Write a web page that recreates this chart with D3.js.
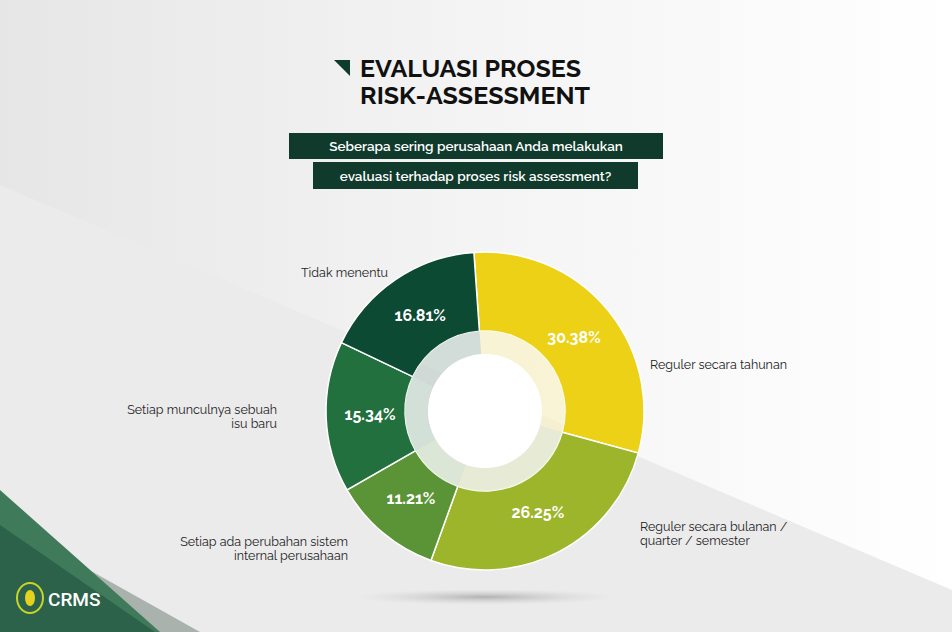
<!DOCTYPE html>
<html><head><meta charset="utf-8">
<script src="https://cdn.jsdelivr.net/npm/d3@7"></script>
<style>body{margin:0}svg{display:block}</style>
</head><body>
<svg width="952" height="632"></svg>
<script>
const categories = ['Reguler secara tahunan', 'Reguler secara bulanan / quarter / semester', 'Setiap ada perubahan sistem internal perusahaan', 'Setiap munculnya sebuah isu baru', 'Tidak menentu']
const values = [30.38, 26.25, 11.21, 15.34, 16.81]
const colors = ['#ecd117', '#9db52a', '#5b9436', '#23703f', '#0d4a33']
const labelLines = [['Reguler secara tahunan'], ['Reguler secara bulanan /', 'quarter / semester'], ['Setiap ada perubahan sistem', 'internal perusahaan'], ['Setiap munculnya sebuah', 'isu baru'], ['Tidak menentu']]
const labelPos = [[650, 369, 'start'], [640, 531, 'start'], [348, 546, 'end'], [277, 414, 'end'], [388, 277, 'end']]

const svg = d3.select('svg')
const font = 'Raleway, Lato, sans-serif'
const defs = svg.append('defs')
const g1 = defs.append('linearGradient').attr('id', 'bg').attr('x1', 0).attr('y1', 0).attr('x2', 1).attr('y2', 0)
g1.append('stop').attr('offset', 0).attr('stop-color', '#e6e6e6')
g1.append('stop').attr('offset', 0.5).attr('stop-color', '#f4f4f4')
g1.append('stop').attr('offset', 1).attr('stop-color', '#ffffff')
const sh = defs.append('radialGradient').attr('id', 'sh')
sh.append('stop').attr('offset', 0).attr('stop-color', '#999').attr('stop-opacity', 0.7)
sh.append('stop').attr('offset', 1).attr('stop-color', '#ccc').attr('stop-opacity', 0)

svg.append('rect').attr('width', 952).attr('height', 632).attr('fill', 'url(#bg)')
svg.append('path').attr('d', 'M0,185 L952,590 L952,632 L0,632Z').attr('fill', '#ecebec')
svg.append('path').attr('d', 'M0,520 L200,632 L0,632Z').attr('fill', '#a9b2ad')
svg.append('path').attr('d', 'M0,490 L160,632 L0,632Z').attr('fill', '#3f7a5b')
svg.append('path').attr('d', 'M0,525 L155,632 L0,632Z').attr('fill', '#2b6249')
svg.append('text').attr('x', 48).attr('y', 606).attr('fill', '#fff').attr('font-family', 'Roboto, sans-serif').attr('font-size', 19).attr('font-weight', 500).text('CRMS')
svg.append('ellipse').attr('cx', 30).attr('cy', 598).attr('rx', 13).attr('ry', 15).attr('fill', 'none').attr('stroke', '#c9d42a').attr('stroke-width', 2)
svg.append('ellipse').attr('cx', 30).attr('cy', 598).attr('rx', 5).attr('ry', 8).attr('fill', '#e5d21e')

// title
svg.append('path').attr('d', 'M334,60 L350,60 L350,76Z').attr('fill', '#0d3b2c')
const title = svg.append('text').attr('font-family', font).attr('font-size', 25).attr('font-weight', 700).attr('fill', '#111')
title.append('tspan').attr('x', 360).attr('y', 77).text('EVALUASI PROSES')
title.append('tspan').attr('x', 360).attr('y', 104).text('RISK-ASSESSMENT')
const boxes = [[289, 133, 374, 26, 'Seberapa sering perusahaan Anda melakukan'], [313, 162, 325, 27, 'evaluasi terhadap proses risk assessment?']]
boxes.forEach(b => {
  svg.append('rect').attr('x', b[0]).attr('y', b[1]).attr('width', b[2]).attr('height', b[3]).attr('fill', '#0f3a2c')
  svg.append('text').attr('x', b[0] + b[2] / 2).attr('y', b[1] + b[3] / 2 + 5).attr('text-anchor', 'middle')
    .attr('font-family', font).attr('font-size', 13.5).attr('font-weight', 600).attr('fill', '#fff').text(b[4])
})

// donut
const cx = 485, cy = 411
svg.append('ellipse').attr('cx', cx).attr('cy', 597).attr('rx', 130).attr('ry', 8).attr('fill', 'url(#sh)')
const pie = d3.pie().sort(null).startAngle(-0.07).endAngle(2 * Math.PI - 0.07)
const arcs = pie(values)
const g = svg.append('g').attr('transform', `translate(${cx},${cy})`)
const outer = d3.arc().innerRadius(80).outerRadius(159)
const ring = d3.arc().innerRadius(57).outerRadius(80)
g.selectAll('.s').data(arcs).enter().append('path').attr('d', outer).attr('fill', (d, i) => colors[i]).attr('stroke', '#fff').attr('stroke-width', 1.5)
g.selectAll('.r').data(arcs).enter().append('path').attr('d', ring).attr('fill', (d, i) => colors[i]).attr('opacity', 0.3)
g.selectAll('.r2').data(arcs).enter().append('path').attr('d', ring).attr('fill', '#fff').attr('opacity', 0.45)
g.append('circle').attr('r', 57).attr('fill', '#fff')
const lab = d3.arc().innerRadius(115).outerRadius(115)
g.selectAll('.p').data(arcs).enter().append('text')
  .attr('transform', d => `translate(${lab.centroid(d)})`).attr('dy', 5).attr('text-anchor', 'middle')
  .attr('font-family', font).attr('font-size', 16).attr('font-weight', 700).attr('fill', '#fff')
  .text(d => d.value.toFixed(2) + '%')

labelLines.forEach((ls, i) => {
  const t = svg.append('text').attr('font-family', font).attr('font-size', 12.5).attr('fill', '#222').attr('text-anchor', labelPos[i][2])
  ls.forEach((l, j) => t.append('tspan').attr('x', labelPos[i][0]).attr('y', labelPos[i][1] + j * 14).text(l))
})
</script>
</body></html>
